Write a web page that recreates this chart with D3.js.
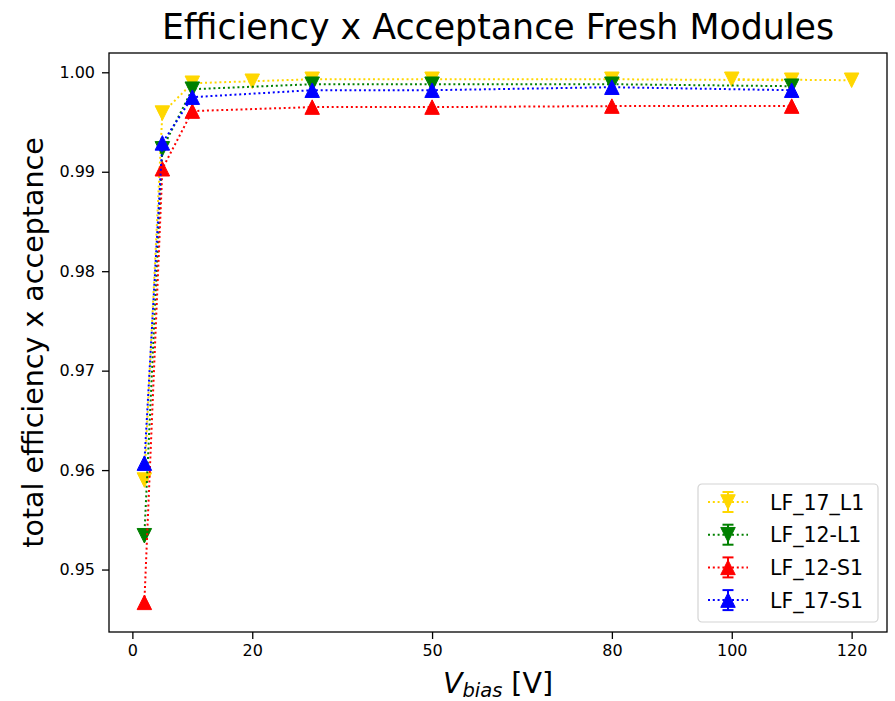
<!DOCTYPE html>
<html>
<head>
<meta charset="utf-8">
<script src="https://cdn.jsdelivr.net/npm/d3@7"></script>
<style>
  body { margin: 0; background: #fff; }
  text { font-family: "DejaVu Sans", sans-serif; }
</style>
</head>
<body>
<div id="chart"></div>
<script>
// data
const seriesNames = ["LF_17_L1", "LF_12-L1", "LF_12-S1", "LF_17-S1"];
const seriesColors = ["#ffd700", "#008000", "#ff0000", "#0000ff"];
const seriesMarkers = ["down", "down", "up", "up"];

const xL1_17 = [2, 5, 10, 20, 30, 50, 80, 110, 100, 120];
const yL1_17 = [0.9590, 0.9959, 0.9989, 0.9991, 0.9993, 0.9993, 0.9993, 0.9992, 0.9993, 0.9992];
const xOther = [2, 5, 10, 30, 50, 80, 110];
const yL1_12 = [0.9534, 0.9923, 0.9983, 0.9988, 0.9988, 0.9988, 0.9986];
const yS1_12 = [0.9467, 0.9903, 0.9961, 0.9965, 0.9965, 0.9966, 0.9966];
const yS1_17 = [0.9607, 0.9929, 0.9975, 0.9982, 0.9982, 0.9985, 0.9982];

const xTicks = [0, 20, 50, 80, 100, 120];
const yTicks = [0.95, 0.96, 0.97, 0.98, 0.99, 1.00];

const WIDTH = 895, HEIGHT = 701;
const MARGINS = {left: 109, right: 8, top: 53, bottom: 69};
const VIS_WIDTH = WIDTH - MARGINS.left - MARGINS.right;
const VIS_HEIGHT = HEIGHT - MARGINS.top - MARGINS.bottom;

const series = [
  {x: xL1_17, y: yL1_17},
  {x: xOther, y: yL1_12},
  {x: xOther, y: yS1_12},
  {x: xOther, y: yS1_17}
].map((s, i) => ({
  name: seriesNames[i], color: seriesColors[i], marker: seriesMarkers[i],
  points: s.x.map((v, j) => ({x: v, y: s.y[j]}))
}));

const svg = d3.select("#chart").append("svg")
  .attr("width", WIDTH).attr("height", HEIGHT);

const xScale = d3.scaleLinear().domain([-3.9, 125.9]).range([0, VIS_WIDTH]);
const yScale = d3.scaleLinear().domain([0.94372, 1.00194]).range([VIS_HEIGHT, 0]);

const g = svg.append("g")
  .attr("transform", "translate(" + MARGINS.left + "," + MARGINS.top + ")");

// axes
const xAxis = g.append("g")
  .attr("transform", "translate(0," + VIS_HEIGHT + ")")
  .call(d3.axisBottom(xScale).tickValues(xTicks).tickSize(7).tickPadding(6));
const yAxis = g.append("g")
  .call(d3.axisLeft(yScale).tickValues(yTicks).tickFormat(d3.format(".2f")).tickSize(7).tickPadding(7));

[xAxis, yAxis].forEach(a => {
  a.select(".domain").remove();
  a.selectAll(".tick line").attr("stroke", "#000").attr("stroke-width", 1.3);
  a.selectAll(".tick text").attr("font-size", 16).attr("fill", "#000")
    .style("font-family", "DejaVu Sans, sans-serif");
});

// marker path
function tri(dir, s) {
  const h = s / 2;
  return dir === "up"
    ? "M0," + (-h) + "L" + (-h) + "," + h + "L" + h + "," + h + "Z"
    : "M0," + h + "L" + (-h) + "," + (-h) + "L" + h + "," + (-h) + "Z";
}

const MK = 14.5;
const line = d3.line().x(d => xScale(d.x)).y(d => yScale(d.y));

const plot = g.append("g");
series.forEach(s => {
  const sg = plot.append("g");
  sg.append("path")
    .datum(s.points)
    .attr("d", line)
    .attr("fill", "none")
    .attr("stroke", s.color)
    .attr("stroke-width", 2)
    .attr("stroke-dasharray", "2,2.8");
  sg.selectAll("path.mk")
    .data(s.points)
    .enter()
    .append("path")
    .attr("class", "mk")
    .attr("transform", d => "translate(" + xScale(d.x) + "," + yScale(d.y) + ")")
    .attr("d", tri(s.marker, MK))
    .attr("fill", s.color)
    .attr("stroke", s.color)
    .attr("stroke-width", 1);
});

// frame
g.append("rect")
  .attr("width", VIS_WIDTH).attr("height", VIS_HEIGHT)
  .attr("fill", "none").attr("stroke", "#000").attr("stroke-width", 1.3);

// legend
const legend = g.append("g")
  .attr("transform", "translate(" + (698 - MARGINS.left) + "," + (484 - MARGINS.top) + ")");
legend.append("rect")
  .attr("width", 180).attr("height", 138).attr("rx", 4)
  .attr("fill", "#fff").attr("fill-opacity", 0.8)
  .attr("stroke", "#d4d4d4").attr("stroke-width", 1.2);

series.forEach((s, i) => {
  const row = legend.append("g").attr("transform", "translate(0," + (18 + i * 32.7) + ")");
  row.append("line")
    .attr("x1", 10).attr("x2", 50)
    .attr("stroke", s.color).attr("stroke-width", 2).attr("stroke-dasharray", "2,2.8");
  row.append("line")
    .attr("x1", 30).attr("x2", 30).attr("y1", -10).attr("y2", 10)
    .attr("stroke", s.color).attr("stroke-width", 2);
  row.selectAll("line.cap")
    .data([-10, 10])
    .enter()
    .append("line")
    .attr("class", "cap")
    .attr("x1", 24.5).attr("x2", 35.5)
    .attr("y1", d => d).attr("y2", d => d)
    .attr("stroke", s.color).attr("stroke-width", 2);
  row.append("path")
    .attr("transform", "translate(30,0)")
    .attr("d", tri(s.marker, MK))
    .attr("fill", s.color).attr("stroke", s.color).attr("stroke-width", 1);
  row.append("text")
    .attr("x", 72).attr("y", 7.5)
    .attr("font-size", 20.5)
    .text(s.name);
});

// title and labels
svg.append("text")
  .attr("x", MARGINS.left + VIS_WIDTH / 2).attr("y", 39)
  .attr("text-anchor", "middle")
  .attr("font-size", 34.8)
  .text("Efficiency x Acceptance Fresh Modules");

svg.append("text")
  .attr("transform", "translate(43," + (MARGINS.top + VIS_HEIGHT / 2) + ") rotate(-90)")
  .attr("text-anchor", "middle")
  .attr("font-size", 28.5)
  .text("total efficiency x acceptance");

const xl = svg.append("text")
  .attr("x", MARGINS.left + VIS_WIDTH / 2).attr("y", 693)
  .attr("text-anchor", "middle")
  .attr("font-size", 28.5);
xl.append("tspan").attr("font-style", "italic").text("V");
xl.append("tspan").attr("font-style", "italic").attr("font-size", 19.5).attr("dy", 4).text("bias");
xl.append("tspan").attr("dy", -4).text(" [V]");
</script>
</body>
</html>
